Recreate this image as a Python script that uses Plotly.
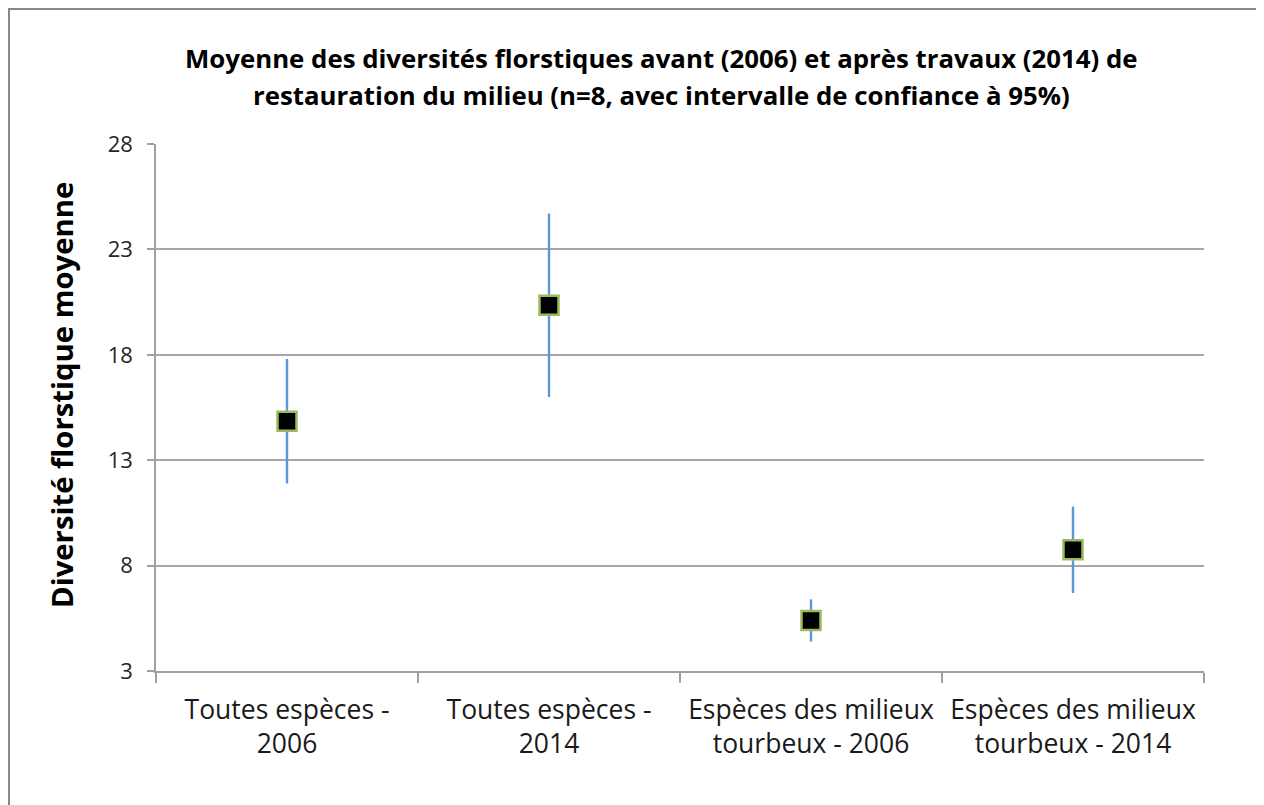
import plotly.graph_objects as go

categories = ["Toutes espèces -<br>2006", "Toutes espèces -<br>2014",
              "Espèces des milieux<br>tourbeux - 2006", "Espèces des milieux<br>tourbeux - 2014"]
means = [14.85, 20.35, 5.4, 8.75]
ci95 = [2.95, 4.35, 1.0, 2.05]
y_ticks = [3, 8, 13, 18, 23, 28]
title_lines = ["Moyenne des diversités florstiques avant (2006) et après travaux (2014) de",
               "restauration du milieu (n=8, avec intervalle de confiance à 95%)"]
y_title = "Diversité florstique moyenne"

# page offset of 8px (body margin)
OFF = 8
W, H = 1256, 797
L, T = 156 - OFF, 144 - OFF
R = W - (1204 - OFF)
B = H - (671 - OFF)
pw, ph = W - L - R, H - T - B


def px_x(x):
    return (x - OFF - L) / pw


def px_y(y):
    return (H - B - (y - OFF)) / ph


fig = go.Figure()
fig.add_trace(go.Scatter(
    x=categories, y=means, mode="markers",
    marker=dict(symbol="square", size=19, color="black",
                line=dict(color="#9BBB59", width=2.5)),
    error_y=dict(type="data", array=ci95, visible=True,
                 color="#5B95DC", thickness=2.4, width=0),
    showlegend=False, hoverinfo="skip"
))

fig.add_shape(type="rect", xref="paper", yref="paper",
              x0=px_x(9), x1=px_x(1262), y0=px_y(830), y1=px_y(9),
              line=dict(color="#888888", width=2), fillcolor="rgba(0,0,0,0)", layer="below")

title_font = dict(family="Open Sans", size=25.8, color="black", weight="bold")
for txt, yc in zip(title_lines, [58, 95]):
    fig.add_annotation(text=txt, xref="paper", yref="paper", x=px_x(661), y=px_y(yc),
                       xanchor="center", yanchor="middle", showarrow=False, font=title_font)

fig.add_annotation(text=y_title, xref="paper", yref="paper", x=px_x(62), y=px_y(395),
                   xanchor="center", yanchor="middle", textangle=-90, showarrow=False,
                   font=dict(family="Open Sans", size=29.3, color="black", weight="bold"))

fig.update_layout(
    width=W, height=H,
    margin=dict(l=L, r=R, t=T, b=B, autoexpand=False),
    paper_bgcolor="white", plot_bgcolor="white",
    xaxis=dict(
        type="category", tickson="boundaries", ticks="outside", ticklen=10,
        tickcolor="#A0A0A0", tickwidth=1.5, ticklabelstandoff=14,
        showgrid=False, showline=True, linecolor="#A0A0A0", linewidth=1.5,
        tickfont=dict(family="Open Sans", size=26.5, color="#1a1a1a"),
        range=[-0.5, 3.5], fixedrange=True,
    ),
    yaxis=dict(
        range=[3, 28], tickvals=y_ticks, ticktext=[str(v) for v in y_ticks],
        showgrid=True, gridcolor="#A6A6A6", gridwidth=1.5,
        showline=True, linecolor="#A0A0A0", linewidth=1.5,
        ticks="outside", ticklen=7, tickcolor="#A0A0A0", tickwidth=1.5,
        ticklabelstandoff=10,
        tickfont=dict(family="Open Sans", size=22, color="#262626"),
        zeroline=False,
    ),
)

fig.write_html("out.html")
